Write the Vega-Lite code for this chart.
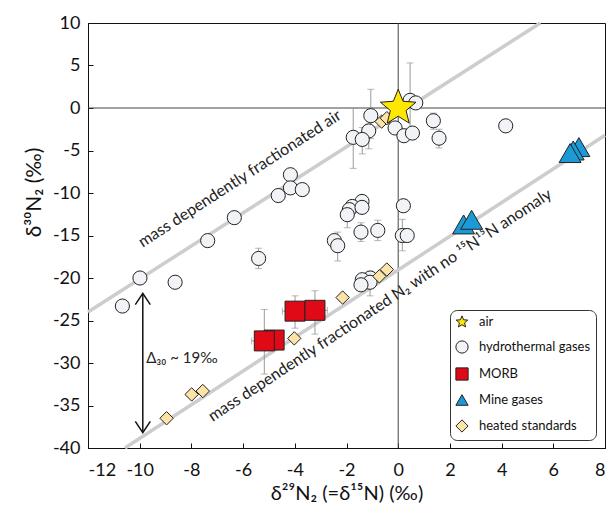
{
  "$schema": "https://vega.github.io/schema/vega-lite/v6.json",
  "width": 517,
  "height": 425,
  "autosize": {"type": "none"},
  "padding": {"left": 88, "top": 23, "right": 9, "bottom": 57},
  "background": "white",
  "config": {
    "view": {"stroke": "#111", "strokeWidth": 1},
    "font": "Lato",
    "axis": {
      "grid": false,
      "domainColor": "#111",
      "tickColor": "#111",
      "labelColor": "#111",
      "titleColor": "#111",
      "labelFont": "Lato",
      "labelFontSize": 18,
      "titleFont": "Lato",
      "titleFontWeight": "normal",
      "titleFontSize": 21,
      "tickSize": -5
    },
    "legend": {
      "orient": "none",
      "legendX": 362,
      "legendY": 287,
      "strokeColor": "#333",
      "cornerRadius": 7,
      "padding": 5,
      "fillColor": "white",
      "labelFont": "Lato",
      "labelFontSize": 13,
      "labelColor": "#111",
      "symbolSize": 150,
      "symbolStrokeWidth": 1,
      "rowPadding": 9,
      "labelOffset": 10
    }
  },
  "datasets": {
    "hydro": [
      {"group": "hydrothermal gases", "x": -10.67, "y": -23.3},
      {"group": "hydrothermal gases", "x": -9.99, "y": -20.0},
      {"group": "hydrothermal gases", "x": -8.63, "y": -20.5},
      {"group": "hydrothermal gases", "x": -7.37, "y": -15.6},
      {"group": "hydrothermal gases", "x": -6.34, "y": -12.9},
      {"group": "hydrothermal gases", "x": -5.40, "y": -17.7},
      {"group": "hydrothermal gases", "x": -4.64, "y": -10.3},
      {"group": "hydrothermal gases", "x": -4.17, "y": -7.85},
      {"group": "hydrothermal gases", "x": -4.17, "y": -9.4},
      {"group": "hydrothermal gases", "x": -3.71, "y": -9.6},
      {"group": "hydrothermal gases", "x": -1.40, "y": -10.99},
      {"group": "hydrothermal gases", "x": -1.78, "y": -11.58},
      {"group": "hydrothermal gases", "x": -1.89, "y": -11.96},
      {"group": "hydrothermal gases", "x": -1.97, "y": -12.55},
      {"group": "hydrothermal gases", "x": -1.40, "y": -11.69},
      {"group": "hydrothermal gases", "x": -1.44, "y": -14.6},
      {"group": "hydrothermal gases", "x": -0.79, "y": -14.4},
      {"group": "hydrothermal gases", "x": -2.47, "y": -15.6},
      {"group": "hydrothermal gases", "x": -2.34, "y": -16.2},
      {"group": "hydrothermal gases", "x": 0.20, "y": -11.5},
      {"group": "hydrothermal gases", "x": 0.16, "y": -15.0},
      {"group": "hydrothermal gases", "x": 0.35, "y": -15.0},
      {"group": "hydrothermal gases", "x": -1.08, "y": -20.0},
      {"group": "hydrothermal gases", "x": -1.39, "y": -20.2},
      {"group": "hydrothermal gases", "x": -1.09, "y": -20.5},
      {"group": "hydrothermal gases", "x": -1.44, "y": -20.8},
      {"group": "hydrothermal gases", "x": -1.74, "y": -3.45},
      {"group": "hydrothermal gases", "x": -1.14, "y": -2.7},
      {"group": "hydrothermal gases", "x": -1.39, "y": -3.7},
      {"group": "hydrothermal gases", "x": -1.06, "y": -0.9},
      {"group": "hydrothermal gases", "x": 0.46, "y": 0.9},
      {"group": "hydrothermal gases", "x": 0.68, "y": 0.6},
      {"group": "hydrothermal gases", "x": -0.12, "y": -2.35},
      {"group": "hydrothermal gases", "x": 0.22, "y": -3.26},
      {"group": "hydrothermal gases", "x": 0.55, "y": -2.95},
      {"group": "hydrothermal gases", "x": 1.36, "y": -1.5},
      {"group": "hydrothermal gases", "x": 1.58, "y": -3.55},
      {"group": "hydrothermal gases", "x": 4.16, "y": -2.1}
    ],
    "heated": [
      {"group": "heated standards", "x": -8.96, "y": -36.5},
      {"group": "heated standards", "x": -7.99, "y": -33.7},
      {"group": "heated standards", "x": -7.56, "y": -33.3},
      {"group": "heated standards", "x": -4.02, "y": -27.1},
      {"group": "heated standards", "x": -2.15, "y": -22.3},
      {"group": "heated standards", "x": -0.73, "y": -19.8},
      {"group": "heated standards", "x": -0.44, "y": -19.0},
      {"group": "heated standards", "x": -0.64, "y": -1.6},
      {"group": "heated standards", "x": -0.44, "y": -1.2}
    ],
    "morb": [
      {"group": "MORB", "x": -4.80, "y": -27.3},
      {"group": "MORB", "x": -5.18, "y": -27.4},
      {"group": "MORB", "x": -3.99, "y": -23.9},
      {"group": "MORB", "x": -3.22, "y": -23.8}
    ],
    "mine": [
      {"group": "Mine gases", "x": 2.53, "y": -13.7},
      {"group": "Mine gases", "x": 2.84, "y": -13.15},
      {"group": "Mine gases", "x": 6.99, "y": -4.6},
      {"group": "Mine gases", "x": 6.77, "y": -5.0},
      {"group": "Mine gases", "x": 6.65, "y": -5.3}
    ],
    "airpoint": [
      {"group": "air", "x": 0.0, "y": 0.0}
    ],
    "vbars": [
      {"x": -5.40, "y": -18.9, "y2": -16.5},
      {"x": -3.71, "y": -10.3, "y2": -9.0},
      {"x": -1.97, "y": -14.1, "y2": -11.5},
      {"x": -1.44, "y": -15.7, "y2": -13.5},
      {"x": -0.79, "y": -15.6, "y2": -13.2},
      {"x": -2.34, "y": -18.0, "y2": -14.6},
      {"x": 0.16, "y": -16.8, "y2": -13.1},
      {"x": -1.09, "y": -22.1, "y2": -19.2},
      {"x": -1.74, "y": -7.1, "y2": 0.0},
      {"x": -1.39, "y": -5.4, "y2": -2.3},
      {"x": -1.14, "y": -4.8, "y2": -1.9},
      {"x": -1.06, "y": -3.6, "y2": 2.2},
      {"x": 0.46, "y": -3.5, "y2": 5.3},
      {"x": 1.36, "y": -2.5, "y2": -0.6},
      {"x": 1.58, "y": -4.7, "y2": -2.5},
      {"x": -5.18, "y": -31.3, "y2": -23.7},
      {"x": -3.99, "y": -25.9, "y2": -22.1},
      {"x": -3.22, "y": -26.6, "y2": -21.5}
    ],
    "hbars": [
      {"x": -5.67, "x2": -4.69, "y": -27.4},
      {"x": -4.48, "x2": -3.50, "y": -23.9},
      {"x": -3.70, "x2": -2.74, "y": -23.8}
    ],
    "fraclines": [
      {"line": "air", "x": -12, "y": -24.0},
      {"line": "air", "x": 5.5, "y": 10.0},
      {"line": "n2", "x": -10.57, "y": -40.0},
      {"line": "n2", "x": 8, "y": -3.2}
    ],
    "refs": [
      {"ref": "v", "x": 0, "y": -40},
      {"ref": "v", "x": 0, "y": 10},
      {"ref": "h", "x": -12, "y": 0},
      {"ref": "h", "x": 8, "y": 0}
    ]
  },
  "encoding": {
    "x": {
      "field": "x",
      "type": "quantitative",
      "scale": {"domain": [-12, 8], "nice": false, "zero": false},
      "axis": {
        "orient": "bottom",
        "title": "δ²⁹N₂ (=δ¹⁵N) (‰)",
        "values": [-12, -10, -8, -6, -4, -2, 0, 2, 4, 6, 8],
        "labelExpr": "'' + datum.value",
        "labelPadding": 18,
        "titleFontSize": 20,
        "titleY": 51,
        "titleBaseline": "alphabetic"
      }
    },
    "y": {
      "field": "y",
      "type": "quantitative",
      "scale": {"domain": [-40, 10], "nice": false, "zero": false},
      "axis": {
        "orient": "left",
        "title": "δ³⁰N₂ (‰)",
        "values": [-40, -35, -30, -25, -20, -15, -10, -5, 0, 5, 10],
        "labelExpr": "'' + datum.value",
        "labelPadding": 13,
        "titleX": -48,
        "titleY": 169,
        "titleBaseline": "alphabetic"
      }
    }
  },
  "layer": [
    {
      "data": {"name": "refs"},
      "mark": {"type": "line", "color": "#444", "strokeWidth": 1},
      "encoding": {"detail": {"field": "ref"}}
    },
    {
      "data": {"name": "fraclines"},
      "mark": {"type": "line", "color": "#cdcdcd", "strokeWidth": 3.5},
      "encoding": {"detail": {"field": "line"}}
    },
    {
      "data": {"name": "vbars"},
      "mark": {"type": "errorbar", "color": "#999", "thickness": 1, "ticks": {"size": 7, "color": "#999"}},
      "encoding": {"y2": {"field": "y2"}}
    },
    {
      "data": {"name": "hbars"},
      "mark": {"type": "errorbar", "color": "#999", "thickness": 1, "ticks": {"size": 7, "color": "#999"}},
      "encoding": {"x2": {"field": "x2"}}
    },
    {
      "data": {"values": [{"x": -6.02, "y": -8.82, "label": "mass dependently fractionated air"}]},
      "mark": {"type": "text", "angle": -33, "align": "center", "baseline": "alphabetic", "font": "Lato", "fontSize": 16, "color": "#222"},
      "encoding": {"text": {"field": "label"}}
    },
    {
      "data": {"values": [{"x": -0.6, "y": -23.7, "label": "mass dependently fractionated N₂ with no ¹⁵N¹⁵N anomaly"}]},
      "mark": {"type": "text", "angle": -33.5, "align": "center", "baseline": "alphabetic", "font": "Lato", "fontSize": 16, "color": "#222"},
      "encoding": {"text": {"field": "label"}}
    },
    {
      "data": {"values": [{"x": -9.75, "y": -29.4, "label": "Δ₃₀ ~ 19‰"}]},
      "mark": {"type": "text", "align": "left", "baseline": "middle", "font": "Lato", "fontSize": 15, "color": "#222"},
      "encoding": {"text": {"field": "label"}}
    },
    {
      "data": {"values": [{"x": -9.88, "y": -38.1, "y2": -21.9}]},
      "mark": {"type": "rule", "color": "#111", "strokeWidth": 1.5},
      "encoding": {"y2": {"field": "y2"}}
    },
    {
      "data": {"values": [{"x": -9.88, "y": -21.8}]},
      "mark": {"type": "point", "shape": "M-1,1.5L0,0L1,1.5", "filled": false, "stroke": "#111", "strokeWidth": 1.5, "size": 225, "opacity": 1},
      "encoding": {}
    },
    {
      "data": {"values": [{"x": -9.88, "y": -38.2}]},
      "mark": {"type": "point", "shape": "M-1,-1.5L0,0L1,-1.5", "filled": false, "stroke": "#111", "strokeWidth": 1.5, "size": 225, "opacity": 1},
      "encoding": {}
    },
    {
      "encoding": {
        "shape": {"field": "group", "type": "nominal", "title": null,
          "scale": {"domain": ["air", "hydrothermal gases", "MORB", "Mine gases", "heated standards"], "range": ["M0,-1L0.26,-0.36L0.951,-0.309L0.42,0.137L0.588,0.809L0,0.44L-0.588,0.809L-0.42,0.137L-0.951,-0.309L-0.26,-0.36Z", "circle", "square", "triangle-up", "diamond"]}},
        "fill": {"field": "group", "type": "nominal", "title": null,
          "scale": {"domain": ["air", "hydrothermal gases", "MORB", "Mine gases", "heated standards"], "range": ["#FFE800", "#F1F3F6", "#E00A17", "#1C9AD6", "#FCE3A7"]}},
        "stroke": {"field": "group", "type": "nominal", "title": null,
          "scale": {"domain": ["air", "hydrothermal gases", "MORB", "Mine gases", "heated standards"], "range": ["#222222", "#222222", "#222222", "#222222", "#222222"]}}
      },
      "layer": [
        {
          "data": {"name": "hydro"},
          "mark": {"type": "point", "filled": true, "size": 200, "strokeWidth": 1, "opacity": 1}
        },
        {
          "data": {"name": "heated"},
          "mark": {"type": "point", "filled": true, "size": 180, "strokeWidth": 1, "opacity": 1}
        },
        {
          "data": {"name": "morb"},
          "mark": {"type": "point", "filled": true, "size": 400, "strokeWidth": 1, "opacity": 1}
        },
        {
          "data": {"name": "mine"},
          "mark": {"type": "point", "filled": true, "size": 480, "strokeWidth": 1, "opacity": 1}
        },
        {
          "data": {"name": "airpoint"},
          "mark": {"type": "point", "filled": true, "size": 1400, "strokeWidth": 1, "opacity": 1}
        }
      ]
    }
  ]
}
